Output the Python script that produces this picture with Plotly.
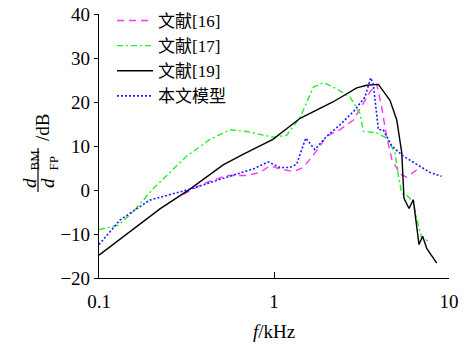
import plotly.graph_objects as go

# 文献[16]
f16 = [0.303, 0.393, 0.537, 0.698, 0.832, 0.948, 1.08, 1.29, 1.47, 1.75, 2.0, 2.38, 2.84, 3.24, 3.54, 3.86, 4.12, 4.40, 4.71, 5.25, 5.73, 6.25, 6.68]
v16 = [-1.0, 1.4, 3.3, 3.3, 4.0, 5.5, 4.8, 4.2, 5.1, 8.9, 12.2, 13.7, 15.9, 19.7, 22.3, 24.1, 18.9, 12.2, 7.0, 3.6, 2.9, 4.0, 4.8]

# 文献[17]
f17 = [0.1, 0.129, 0.157, 0.204, 0.317, 0.431, 0.561, 0.698, 0.99, 1.18, 1.41, 1.68, 1.92, 2.28, 2.72, 3.10, 3.24, 3.86, 4.40, 4.91, 5.13, 5.37, 5.73, 6.25, 6.53, 6.98, 7.62]
v17 = [-9.0, -8.0, -4.9, 0.3, 7.7, 11.5, 13.7, 13.3, 12.0, 12.4, 16.5, 23.4, 24.4, 23.0, 21.1, 17.4, 13.3, 13.0, 11.8, 8.5, 3.3, -0.8, -1.2, -2.7, -6.4, -10.9, -11.6]

# 文献[19]
f19 = [0.1, 0.223, 0.331, 0.512, 0.665, 0.986, 1.41, 2.17, 2.97, 3.39, 3.95, 4.6, 5.03, 5.37, 5.53, 5.91, 6.25, 6.74, 7.07, 7.46, 8.51]
v19 = [-14.8, -4.3, 0.2, 5.7, 8.1, 11.5, 16.3, 20.0, 23.2, 23.8, 24.0, 20.4, 15.9, 8.5, -1.9, -4.2, -2.2, -12.4, -10.5, -13.3, -16.6]

# 本文模型
fm = [0.1, 0.132, 0.195, 0.331, 0.537, 0.762, 0.928, 1.08, 1.23, 1.35, 1.44, 1.52, 1.71, 2.0, 2.38, 2.84, 3.31, 3.57, 3.69, 3.95, 4.21, 4.71, 5.48, 6.53, 7.78, 9.08]
vm = [-12.4, -6.8, -2.3, 0.2, 2.9, 4.8, 6.4, 5.1, 5.1, 5.9, 9.2, 11.8, 9.2, 12.2, 14.8, 17.8, 21.1, 25.5, 24.1, 13.7, 13.7, 10.0, 7.7, 5.9, 4.0, 3.1]

x_tickvals = [0.1, 1, 10]
x_ticktext = ["0.1", "1", "10"]

FONT = "Liberation Serif, Times New Roman, Noto Sans CJK SC, serif"

fig = go.Figure()
fig.add_trace(go.Scatter(x=f16, y=v16, mode="lines", name="文献[16]",
                         line=dict(color="#ff33ff", width=1.4, dash="7px,5px")))
fig.add_trace(go.Scatter(x=f17, y=v17, mode="lines", name="文献[17]",
                         line=dict(color="#22ee22", width=1.4, dash="6px,3px,2px,3px")))
fig.add_trace(go.Scatter(x=f19, y=v19, mode="lines", name="文献[19]",
                         line=dict(color="#000000", width=1.4)))
fig.add_trace(go.Scatter(x=fm, y=vm, mode="lines", name="本文模型",
                         line=dict(color="#1a1aff", width=1.6, dash="2px,2px")))

# page has an 8px body margin: the figure div starts at (8, 8)
OFF = 8
W, H = 468, 334
PLOT_L, PLOT_R, PLOT_T, PLOT_B = 99, 449, 14, 278   # page pixels
L, T = PLOT_L - OFF, PLOT_T - OFF
R = W - (PLOT_R - OFF)
B = H - (PLOT_B - OFF)
pw, ph = W - L - R, H - T - B

def px(x):  # page pixel -> paper x
    return (x - OFF - L) / pw

def py(y):  # page pixel -> paper y
    return (H - B - (y - OFF)) / ph

def rot(text, x, y, size=19, italic=False):
    return dict(text=text, textangle=-90, x=px(x), y=py(y), xref="paper", yref="paper",
                xanchor="center", yanchor="middle", showarrow=False,
                font=dict(size=size, style="italic" if italic else "normal"))

fig.update_layout(
    width=W, height=H,
    margin=dict(l=L, r=R, t=T, b=B, autoexpand=False),
    paper_bgcolor="white", plot_bgcolor="white",
    font=dict(family=FONT, size=19, color="black"),
    showlegend=True,
    legend=dict(x=px(112), y=py(3), xanchor="left", yanchor="top",
                bgcolor="rgba(0,0,0,0)", borderwidth=0,
                font=dict(size=17), itemwidth=36, tracegroupgap=0),
    xaxis=dict(type="log", range=[-1, 1], tickvals=x_tickvals, ticktext=x_ticktext,
               ticks="inside", ticklen=6, tickcolor="black", showline=True,
               linecolor="black", linewidth=1.2, showgrid=False, zeroline=False,
               automargin=False, ticklabelstandoff=6,
               title=dict(text="<i>f</i>/kHz", standoff=17, font=dict(size=19))),
    yaxis=dict(range=[-20, 40], dtick=10, ticks="outside", ticklen=4,
               tickcolor="black", showline=True, linecolor="black", linewidth=1.2,
               showgrid=False, zeroline=False, automargin=False,
               ticklabeloverflow="allow"),
    annotations=[
        rot("d", 29, 183, 19, True),
        rot("BM", 33.5, 160, 13),
        rot("d", 47, 183, 19, True),
        rot("FP", 53.5, 164, 13),
        rot("/dB", 43, 128, 19),
    ],
    shapes=[
        dict(type="line", xref="paper", yref="paper", x0=px(38), x1=px(38),
             y0=py(148), y1=py(192), line=dict(color="black", width=1.2)),
    ],
)

fig.write_html("out.html")
